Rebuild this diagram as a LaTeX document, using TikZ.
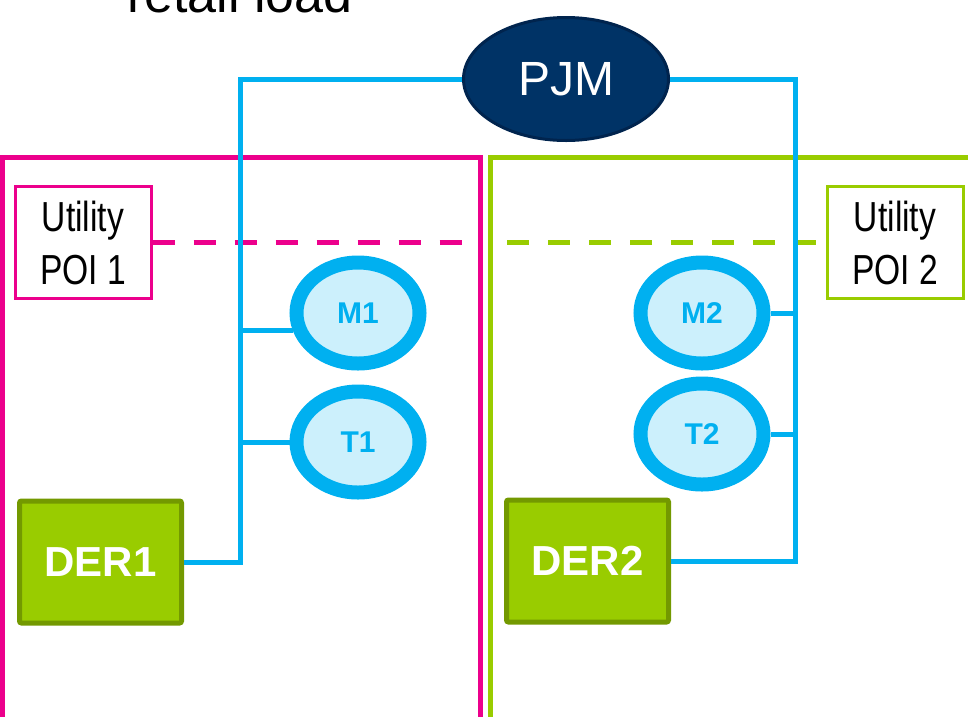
\documentclass[tikz,border=0pt]{standalone}
\usepackage{fontspec}
\setmainfont{Liberation Sans}
\newfontfamily\narrowsans[FakeStretch=0.8]{Liberation Sans}
\usepackage{xcolor}
\usepackage{tikz}
\usetikzlibrary{shapes.geometric}

\definecolor{pjmblue}{RGB}{0,51,102}
\definecolor{pjmedge}{RGB}{0,36,78}
\definecolor{linkblue}{RGB}{0,176,240}
\definecolor{meterfill}{RGB}{204,240,252}
\definecolor{poipink}{RGB}{236,0,140}
\definecolor{poigreen}{RGB}{153,204,0}
\definecolor{deredge}{RGB}{115,153,0}

\begin{document}
\begin{tikzpicture}[x=1pt, y=-1pt,
  meter/.style={ellipse, draw=linkblue, line width=14pt, fill=meterfill,
    minimum width=123pt, minimum height=101pt, inner sep=0pt,
    text=linkblue, font=\fontsize{30}{36}\selectfont\bfseries},
  der/.style={rectangle, rounded corners=2pt, draw=deredge, line width=5pt,
    fill=poigreen, minimum width=162pt, minimum height=122pt,
    text=white, font=\fontsize{42}{50}\selectfont\bfseries},
  poi/.style={rectangle, line width=3pt, fill=white, minimum width=136pt,
    minimum height=112pt, align=center, inner sep=0pt,
    font=\fontsize{42}{53}\selectfont\narrowsans},
  link/.style={linkblue, line width=5pt}]
  \useasboundingbox (0,0) rectangle (968,716);
  \clip (0,0) rectangle (968,716);

  \node[anchor=base west, inner sep=0pt, font=\fontsize{52}{60}\selectfont] (title) at (127,12) {retail load};

  % utility areas
  \draw[poipink, line width=5pt] (2.5,157) rectangle (480,740);
  \draw[poigreen, line width=5pt] (490,157) rectangle (990,740);

  \node[poi, draw=poipink] (POI1) at (83,242.5) {Utility\\POI 1};
  \node[poi, draw=poigreen] (POI2) at (895,242.5) {Utility\\POI 2};
  \coordinate (d1) at (470,242.5);
  \coordinate (d2) at (507,242.5);
  \draw[poipink, line width=5pt, dash pattern=on 22pt off 19pt] (POI1.east) -- (d1);
  \draw[poigreen, line width=5pt, dash pattern=on 22pt off 19pt] (d2) -- (POI2.west);

  \node[ellipse, draw=pjmedge, line width=3pt, fill=pjmblue, minimum width=205pt,
    minimum height=123pt, text=white, font=\fontsize{48}{56}\selectfont] (PJM) at (566,79) {PJM};

  \node[meter] (M1) at (358,313) {M1};
  \node[meter] (T1) at (358,442) {T1};
  \node[meter] (M2) at (702,313) {M2};
  \node[meter] (T2) at (702,434) {T2};

  \node[der] (DER1) at (100.5,562) {DER1};
  \node[der] (DER2) at (587.5,561) {DER2};

  % communication links
  \coordinate (jl) at (240,0);
  \coordinate (jr) at (795,0);
  \draw[link] (PJM.west) -- (PJM.west -| jl) -- (DER1.east -| jl) -- (DER1.east);
  \draw[link] (PJM.east) -- (PJM.east -| jr) -- (DER2.east -| jr) -- (DER2.east);
  \draw[link] (M1.195 -| jl) -- (M1.195);
  \draw[link] (T1.west -| jl) -- (T1.west);
  \draw[link] (M2.east) -- (M2.east -| jr);
  \draw[link] (T2.east) -- (T2.east -| jr);
\end{tikzpicture}
\end{document}
